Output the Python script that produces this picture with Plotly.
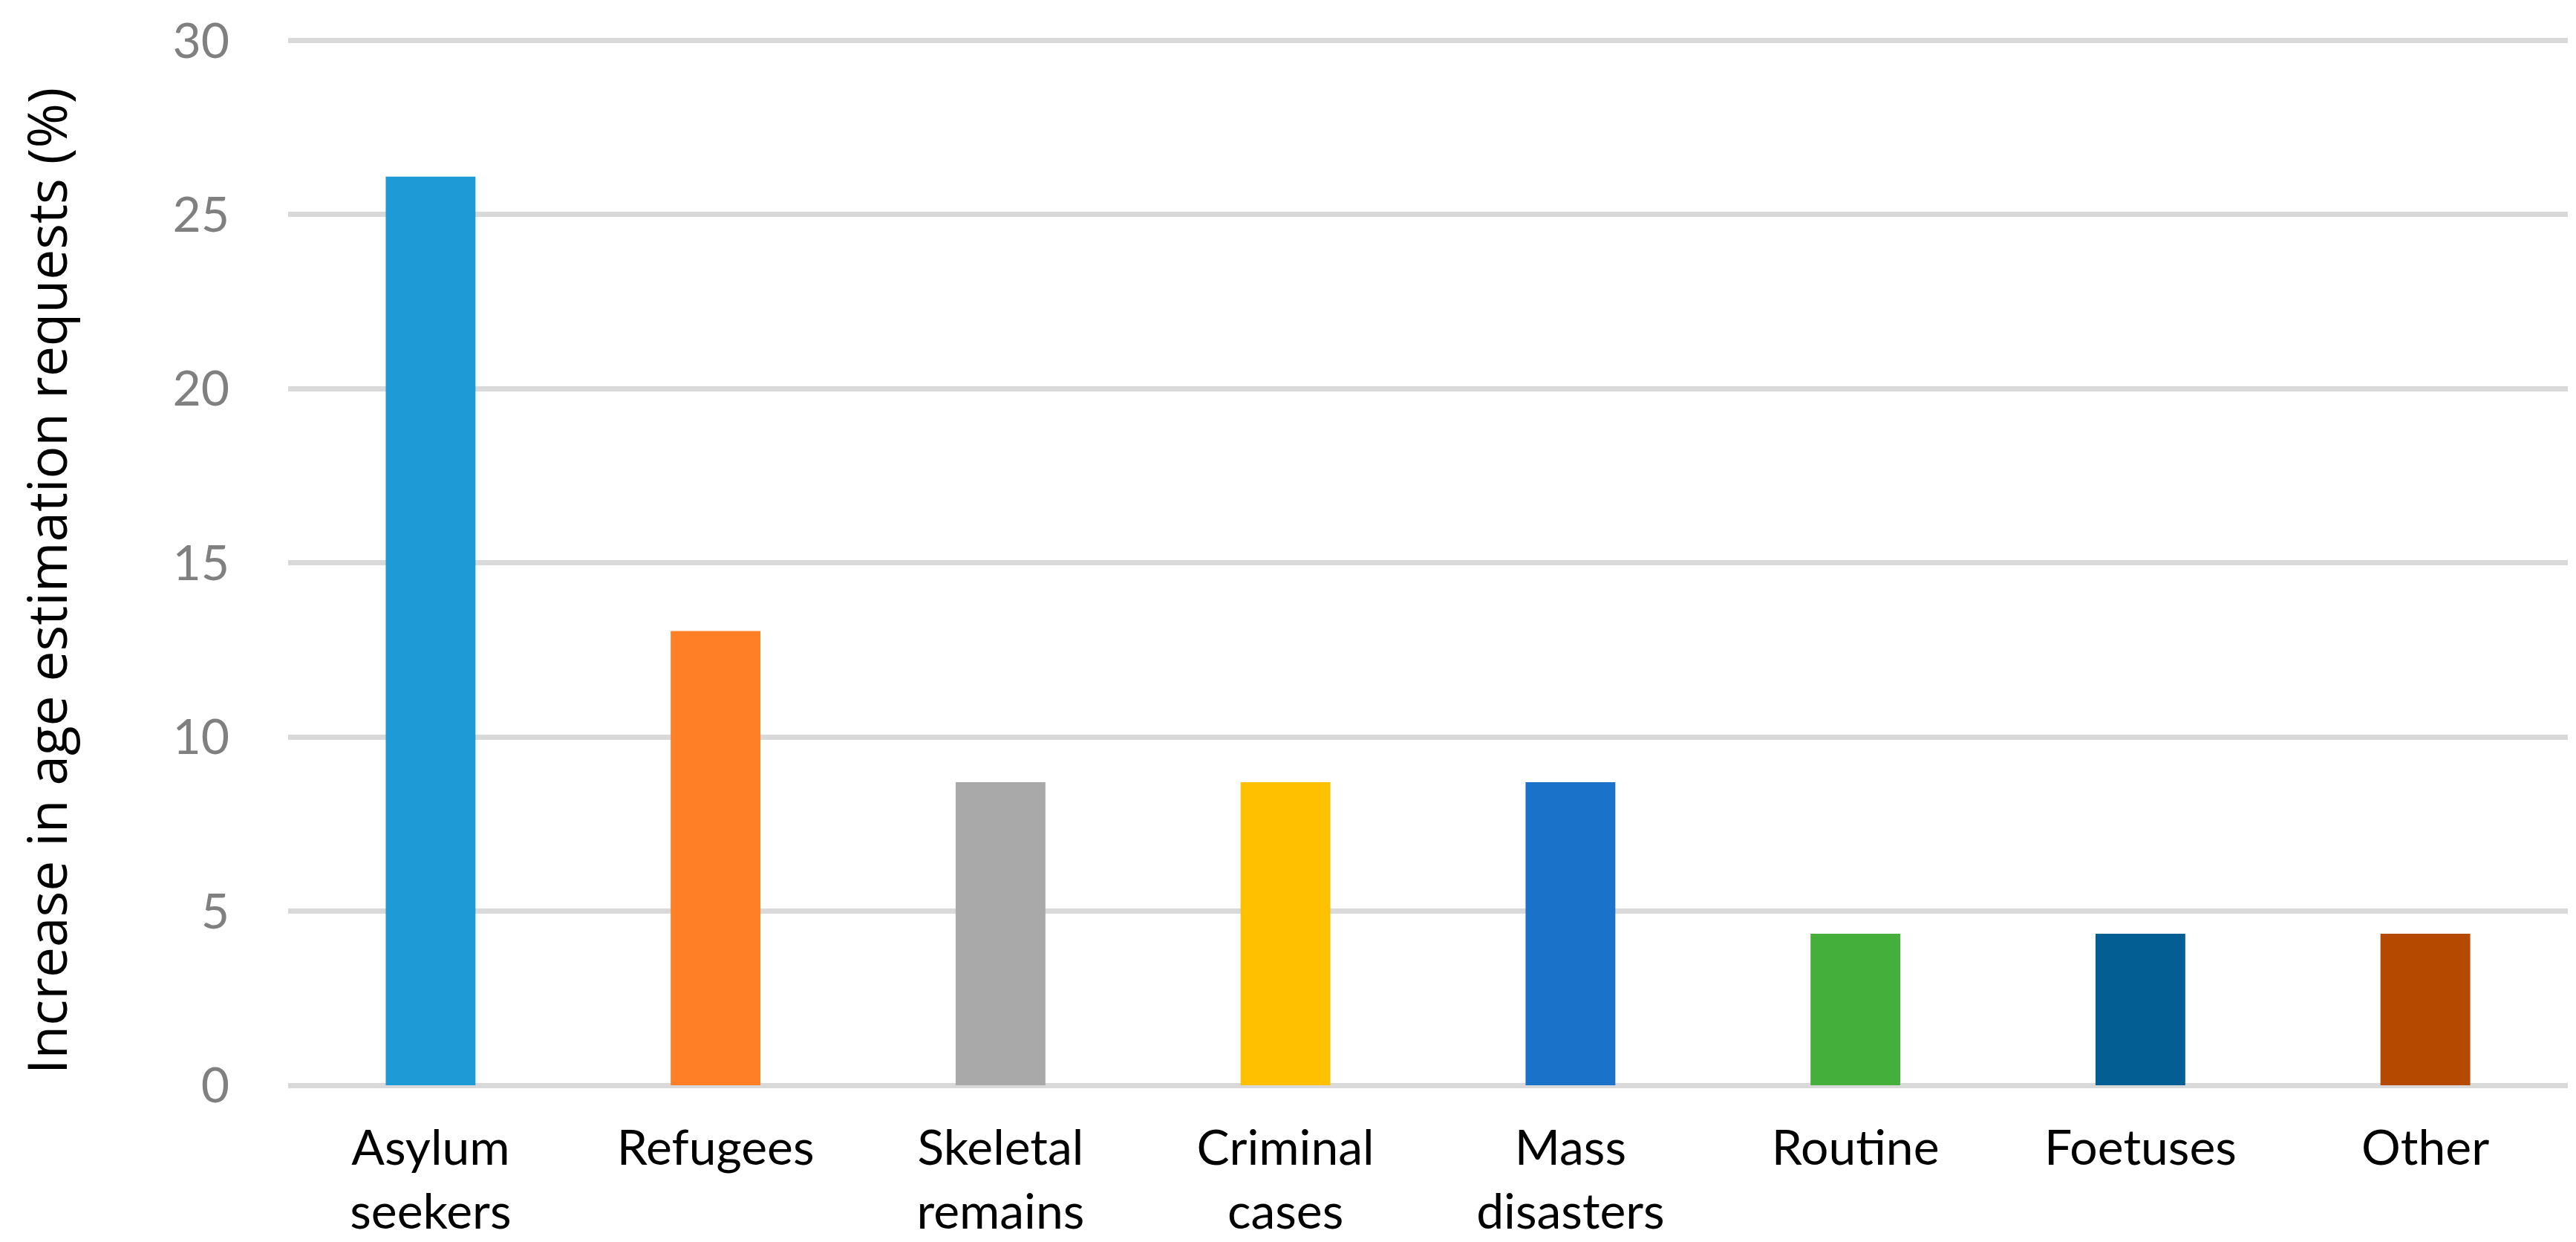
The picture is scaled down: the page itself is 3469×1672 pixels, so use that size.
import plotly.graph_objects as go

categories = ["Asylum<br>seekers", "Refugees", "Skeletal<br>remains", "Criminal<br>cases",
              "Mass<br>disasters", "Routine", "Foetuses", "Other"]
values = [26.09, 13.04, 8.70, 8.70, 8.70, 4.35, 4.35, 4.35]
colors = ["#1E9BD7", "#FF7F27", "#A9A9A9", "#FFC000", "#1A73C8", "#45AF3C", "#025E93", "#B54900"]
y_ticks = [0, 5, 10, 15, 20, 25, 30]
y_title = "Increase in age estimation requests (%)"

W, H = 3469, 1672
L, R, T, B = 380, 19, 45, 219
plot_w = W - L - R
plot_h = H - T - B

fig = go.Figure(go.Bar(x=categories, y=values, marker=dict(color=colors, line=dict(width=0))))

fig.update_layout(
    width=W, height=H,
    margin=dict(l=L, r=R, t=T, b=B),
    paper_bgcolor="white", plot_bgcolor="white",
    bargap=0.685,
    showlegend=False,
    font=dict(family="Lato", color="black"),
)
fig.update_xaxes(
    showgrid=False, showline=False, zeroline=False,
    tickfont=dict(family="Lato", size=66, color="black"),
    ticklabelstandoff=40,
    automargin=False,
)
fig.update_yaxes(
    range=[0, 30.03], tickvals=y_ticks,
    showgrid=True, gridcolor="#D9D9D9", gridwidth=7,
    zeroline=True, zerolinecolor="#D9D9D9", zerolinewidth=7,
    showline=False,
    tickfont=dict(family="Lato", size=66, color="#808080"),
    ticklabelstandoff=78,
    automargin=False,
)
fig.add_annotation(
    text=y_title, textangle=-90, showarrow=False,
    xref="paper", yref="paper",
    x=(53 - L) / plot_w, y=(H - B - 774) / plot_h,
    xanchor="center", yanchor="middle",
    font=dict(family="Open Sans", size=73, color="black"),
)

fig.write_html("out.html")
